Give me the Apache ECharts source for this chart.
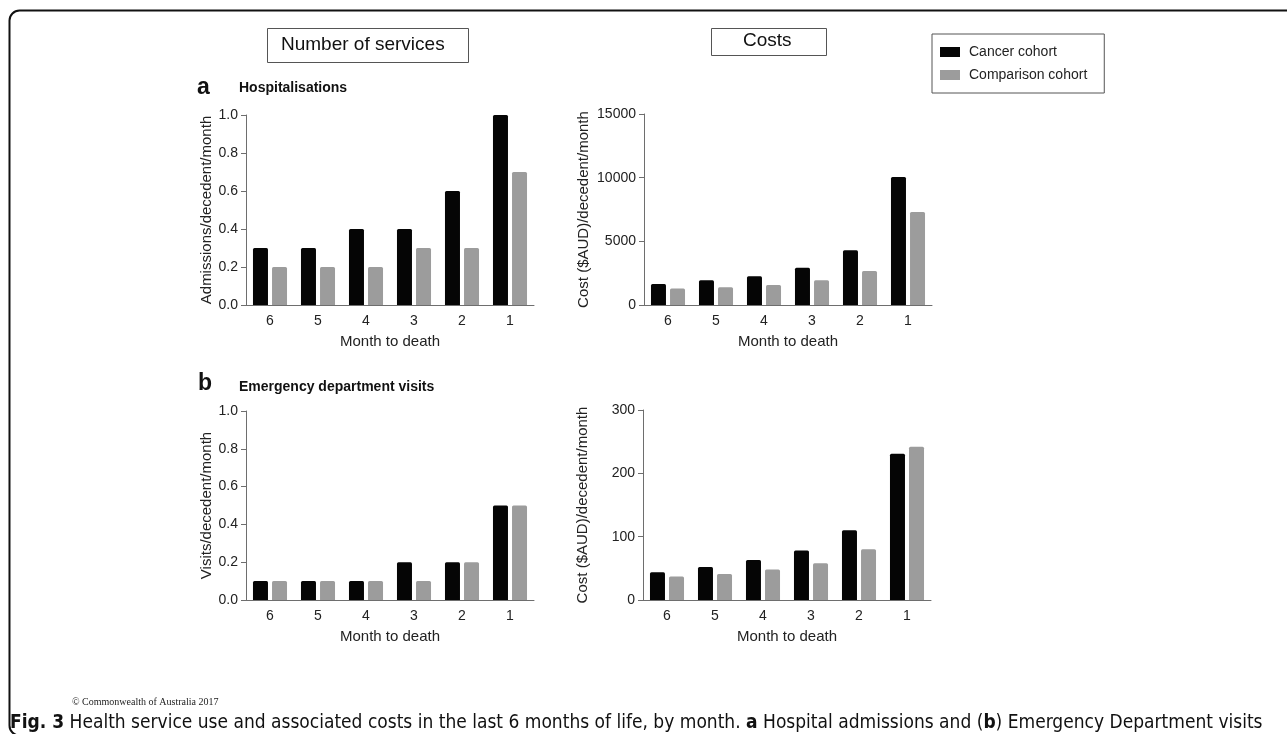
<!DOCTYPE html>
<html>
<head>
<meta charset="utf-8">
<script src="https://cdn.jsdelivr.net/npm/echarts@6/dist/echarts.min.js"></script>
<style>
html,body{margin:0;padding:0;background:#fff;}
#chart{width:1287px;height:734px;}
</style>
</head>
<body>
<div id="chart"></div>
<script>
// ---- data ----
const months = ['6', '5', '4', '3', '2', '1'];
const seriesNames = ['Cancer cohort', 'Comparison cohort'];
const hospCancer = [0.3, 0.3, 0.4, 0.4, 0.6, 1.0];
const hospComparison = [0.2, 0.2, 0.2, 0.3, 0.3, 0.7];
const hospCostCancer = [1650, 1950, 2250, 2930, 4300, 10050];
const hospCostComparison = [1300, 1400, 1570, 1940, 2670, 7300];
const edCancer = [0.1, 0.1, 0.1, 0.2, 0.2, 0.5];
const edComparison = [0.1, 0.1, 0.1, 0.1, 0.2, 0.5];
const edCostCancer = [44, 52, 63, 78, 110, 231];
const edCostComparison = [37, 41, 48, 58, 80, 242];
const rateTicks = { min: 0, max: 1, interval: 0.2 };
const hospCostTicks = { min: 0, max: 15000, interval: 5000 };
const edCostTicks = { min: 0, max: 300, interval: 100 };
const yNames = ['Admissions/decedent/month', 'Cost ($AUD)/decedent/month', 'Visits/decedent/month', 'Cost ($AUD)/decedent/month'];
const xName = 'Month to death';

// ---- styles ----
const FONT = '"Liberation Sans", Arial, sans-serif';
const AX = '#6e6e6e';
const BLACK = '#050505';
const GREY = '#9c9c9c';

const grids = [
  { left: 246, top: 115, width: 288, height: 190 },
  { left: 644, top: 114, width: 288, height: 191 },
  { left: 246, top: 411, width: 288, height: 189 },
  { left: 643, top: 410, width: 288, height: 190 }
];
const ticks = [rateTicks, hospCostTicks, rateTicks, edCostTicks];
const nameGaps = [30, 53, 30, 53];
const fmt = [v => v.toFixed(1), v => String(v), v => v.toFixed(1), v => String(v)];

const xAxes = grids.map((g, i) => ({
  type: 'category', gridIndex: i, data: months,
  name: xName, nameLocation: 'middle', nameGap: 29,
  nameTextStyle: { fontFamily: FONT, fontSize: 15, color: '#222' },
  axisLine: { lineStyle: { color: AX, width: 1 } },
  axisTick: { alignWithLabel: true, length: 5, lineStyle: { color: AX } },
  axisLabel: { fontFamily: FONT, fontSize: 14, color: '#222', margin: 9 }
}));
const yAxes = grids.map((g, i) => ({
  type: 'value', gridIndex: i,
  min: ticks[i].min, max: ticks[i].max, interval: ticks[i].interval,
  name: yNames[i], nameLocation: 'middle', nameGap: nameGaps[i],
  nameTextStyle: { fontFamily: FONT, fontSize: 15, color: '#222' },
  axisLine: { show: true, lineStyle: { color: AX, width: 1 } },
  axisTick: { show: true, length: 5, lineStyle: { color: AX } },
  splitLine: { show: false },
  axisLabel: { fontFamily: FONT, fontSize: 14, color: '#222', margin: 8, formatter: fmt[i] }
}));

const pairs = [
  [hospCancer, hospComparison],
  [hospCostCancer, hospCostComparison],
  [edCancer, edComparison],
  [edCostCancer, edCostComparison]
];
const series = [];
pairs.forEach((p, i) => {
  p.forEach((d, j) => {
    series.push({
      type: 'bar', name: seriesNames[j], xAxisIndex: i, yAxisIndex: i,
      data: d, barWidth: 15, barGap: '27%',
      itemStyle: { color: j === 0 ? BLACK : GREY, borderRadius: [1.5, 1.5, 0, 0] },
      emphasis: { disabled: true }
    });
  });
});

function label(x, y, text, size, weight) {
  return { type: 'text', left: x, top: y, style: { text: text, font: (weight || 'normal') + ' ' + size + 'px ' + FONT, fill: '#111' } };
}

const CAPFONT = '"Liberation Sans Narrow", "DejaVu Sans Condensed", sans-serif';

const option = {
  animation: false,
  backgroundColor: '#fff',
  grid: grids,
  xAxis: xAxes,
  yAxis: yAxes,
  series: series,
  legend: {
    data: seriesNames, orient: 'vertical', left: 932, top: 34,
    icon: 'rect', itemWidth: 20, itemHeight: 10, itemGap: 9,
    padding: [11, 17, 11, 8],
    borderColor: '#555', borderWidth: 1,
    textStyle: { fontFamily: FONT, fontSize: 14, color: '#222', padding: [0, 0, 0, 4] },
    selectedMode: false
  },
  graphic: [
    { type: 'rect', shape: { x: 9.5, y: 10.5, width: 1320, height: 725, r: 10 }, style: { fill: null, stroke: '#111', lineWidth: 2 }, silent: true },
    { type: 'rect', shape: { x: 267.5, y: 28.5, width: 201, height: 34 }, style: { fill: null, stroke: '#555', lineWidth: 1 } },
    { type: 'text', left: 281, top: 35, style: { text: 'Number of services', font: '19px ' + FONT, fill: '#111' } },
    { type: 'rect', shape: { x: 711.5, y: 28.5, width: 115, height: 27 }, style: { fill: null, stroke: '#555', lineWidth: 1 } },
    { type: 'text', left: 743, top: 31, style: { text: 'Costs', font: '19px ' + FONT, fill: '#111' } },
    label(197, 76, 'a', 23, 'bold'),
    label(239, 81, 'Hospitalisations', 14, 'bold'),
    label(198, 372, 'b', 23, 'bold'),
    label(239, 380, 'Emergency department visits', 14, 'bold'),
    { type: 'text', left: 72, top: 697, style: { text: '© Commonwealth of Australia 2017', font: '10px "Liberation Serif", serif', fill: '#222' } },
    { type: 'text', left: 10, top: 714, style: {
      text: '{b|Fig. 3} Health service use and associated costs in the last 6 months of life, by month. {b|a} Hospital admissions and ({b|b}) Emergency Department visits',
      font: '19px ' + CAPFONT, fill: '#111',
      rich: { b: { fontWeight: 'bold', fontFamily: CAPFONT, fontSize: 19 } }
    } }
  ]
};

const chart = echarts.init(document.getElementById('chart'), null, { renderer: 'canvas' });
chart.setOption(option);
</script>
</body>
</html>
